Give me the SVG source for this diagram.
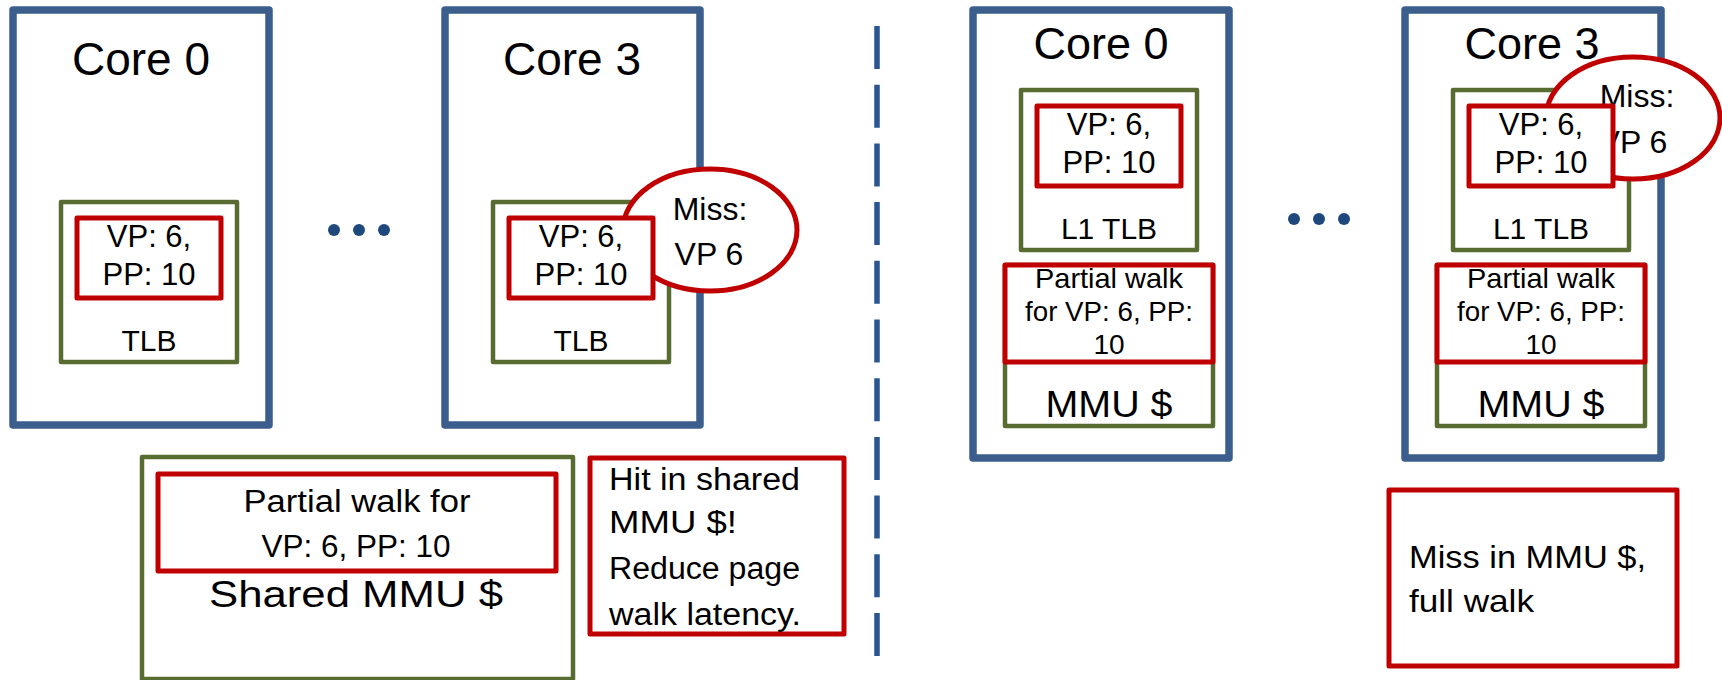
<svg xmlns="http://www.w3.org/2000/svg" width="1722" height="680" viewBox="0 0 1722 680">
<style>
  text { font-family: "Liberation Sans", Arial, sans-serif; fill: #000; }
  .core { fill: #fff; stroke: #3b5e8c; stroke-width: 7.5; stroke-linejoin: round; }
  .grn { fill: #fff; stroke: #586b30; stroke-width: 4.5; stroke-linejoin: round; }
  .red { fill: #fff; stroke: #c00000; stroke-width: 5; stroke-linejoin: round; }
  .dot { fill: #1f497d; }
  .c { text-anchor: middle; }
</style>
<rect width="1722" height="680" fill="#fff"/>

<g id="connectors">
  <line x1="877" y1="26" x2="877" y2="656" stroke="#2a5590" stroke-width="5.5" stroke-dasharray="43 15.7"/>
</g>

<!-- Left half -->
<g id="core0-left">
  <rect class="core" x="13" y="10" width="256" height="415"/>
  <text class="c" x="141" y="75" font-size="46">Core 0</text>
  <rect class="grn" x="61" y="202" width="176" height="160"/>
  <text class="c" x="149" y="351" font-size="30">TLB</text>
  <rect class="red" x="77" y="218" width="144" height="80"/>
  <text class="c" x="149" y="247" font-size="31">VP: 6,</text>
  <text class="c" x="149" y="285" font-size="31">PP: 10</text>
</g>

<g id="dots-left">
  <circle class="dot" cx="334" cy="230" r="6"/>
  <circle class="dot" cx="359" cy="230" r="6"/>
  <circle class="dot" cx="384" cy="230" r="6"/>
</g>

<g id="core3-left">
  <rect class="core" x="445" y="10" width="255" height="415"/>
  <text class="c" x="572" y="75" font-size="46">Core 3</text>
  <rect class="grn" x="493" y="202" width="176" height="160"/>
  <text class="c" x="581" y="351" font-size="30">TLB</text>
</g>

<g id="miss-left">
  <ellipse class="red" cx="710" cy="230" rx="87" ry="61"/>
  <text class="c" x="710" y="220" font-size="32">Miss:</text>
  <text class="c" x="709" y="265" font-size="32">VP 6</text>
</g>

<g id="core3-left-entry">
  <rect class="red" x="509" y="218" width="144" height="80"/>
  <text class="c" x="581" y="247" font-size="31">VP: 6,</text>
  <text class="c" x="581" y="285" font-size="31">PP: 10</text>
</g>

<g id="shared-mmu">
  <rect class="grn" x="142" y="457" width="431" height="222"/>
  <rect class="red" x="158" y="474" width="398" height="97"/>
  <text class="c" x="357" y="512" font-size="31" textLength="227" lengthAdjust="spacingAndGlyphs">Partial walk for</text>
  <text class="c" x="356" y="557" font-size="31" textLength="189" lengthAdjust="spacingAndGlyphs">VP: 6, PP: 10</text>
  <text class="c" x="356" y="607" font-size="36" textLength="294" lengthAdjust="spacingAndGlyphs">Shared MMU $</text>
</g>

<g id="hit-note">
  <rect class="red" x="590" y="458" width="254" height="176"/>
  <text x="609" y="490" font-size="31" textLength="191" lengthAdjust="spacingAndGlyphs">Hit in shared</text>
  <text x="609" y="533" font-size="31" textLength="128" lengthAdjust="spacingAndGlyphs">MMU $!</text>
  <text x="609" y="579" font-size="31" textLength="191" lengthAdjust="spacingAndGlyphs">Reduce page</text>
  <text x="609" y="625" font-size="31" textLength="192" lengthAdjust="spacingAndGlyphs">walk latency.</text>
</g>

<!-- Right half -->
<g id="core0-right">
  <rect class="core" x="973" y="10" width="256" height="448"/>
  <text class="c" x="1101" y="59" font-size="45">Core 0</text>
  <rect class="grn" x="1021" y="90" width="176" height="160"/>
  <text class="c" x="1109" y="239" font-size="30">L1 TLB</text>
  <rect class="red" x="1037" y="106" width="144" height="80"/>
  <text class="c" x="1109" y="135" font-size="31">VP: 6,</text>
  <text class="c" x="1109" y="173" font-size="31">PP: 10</text>
  <rect class="grn" x="1005" y="265" width="208" height="161"/>
  <text class="c" x="1109" y="417" font-size="36" textLength="127" lengthAdjust="spacingAndGlyphs">MMU $</text>
  <rect class="red" x="1005" y="265" width="208" height="97"/>
  <text class="c" x="1109" y="288" font-size="28" textLength="148" lengthAdjust="spacingAndGlyphs">Partial walk</text>
  <text class="c" x="1109" y="321" font-size="28" textLength="168" lengthAdjust="spacingAndGlyphs">for VP: 6, PP:</text>
  <text class="c" x="1109" y="354" font-size="28">10</text>
</g>

<g id="dots-right">
  <circle class="dot" cx="1294" cy="219" r="6"/>
  <circle class="dot" cx="1319" cy="219" r="6"/>
  <circle class="dot" cx="1344" cy="219" r="6"/>
</g>

<g id="core3-right">
  <rect class="core" x="1405" y="10" width="256" height="448"/>
  <text class="c" x="1532" y="59" font-size="45">Core 3</text>
  <rect class="grn" x="1453" y="90" width="176" height="160"/>
  <text class="c" x="1541" y="239" font-size="30">L1 TLB</text>
  <rect class="grn" x="1437" y="265" width="208" height="161"/>
  <text class="c" x="1541" y="417" font-size="36" textLength="127" lengthAdjust="spacingAndGlyphs">MMU $</text>
  <rect class="red" x="1437" y="265" width="208" height="97"/>
  <text class="c" x="1541" y="288" font-size="28" textLength="148" lengthAdjust="spacingAndGlyphs">Partial walk</text>
  <text class="c" x="1541" y="321" font-size="28" textLength="168" lengthAdjust="spacingAndGlyphs">for VP: 6, PP:</text>
  <text class="c" x="1541" y="354" font-size="28">10</text>
</g>

<g id="miss-right">
  <ellipse class="red" cx="1633" cy="118" rx="87" ry="61"/>
  <text class="c" x="1637" y="107" font-size="32">Miss:</text>
  <text class="c" x="1633" y="153" font-size="32">VP 6</text>
</g>

<g id="core3-right-entry">
  <rect class="red" x="1469" y="106" width="144" height="80"/>
  <text class="c" x="1541" y="135" font-size="31">VP: 6,</text>
  <text class="c" x="1541" y="173" font-size="31">PP: 10</text>
</g>

<g id="miss-note">
  <rect class="red" x="1389" y="490" width="288" height="176"/>
  <text x="1409" y="568" font-size="32" textLength="237" lengthAdjust="spacingAndGlyphs">Miss in MMU $,</text>
  <text x="1409" y="612" font-size="32" textLength="125" lengthAdjust="spacingAndGlyphs">full walk</text>
</g>
</svg>
